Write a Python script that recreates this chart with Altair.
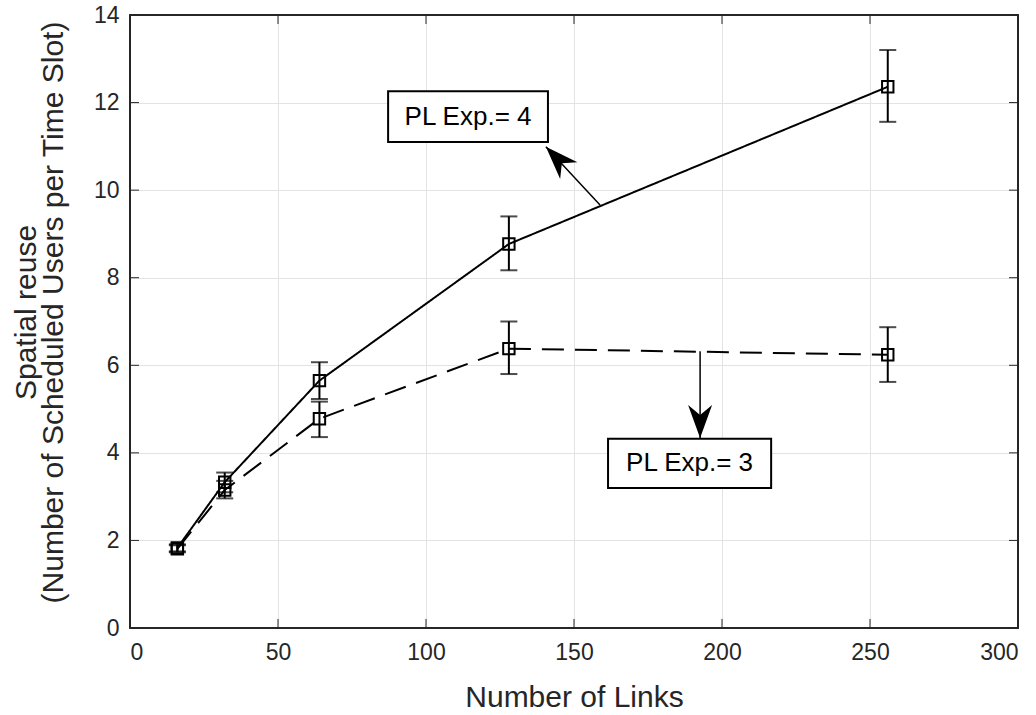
import altair as alt
import pandas as pd

# ---------------- data ----------------
links = [16, 32, 64, 128, 256]
pl4_mean = [1.83, 3.33, 5.65, 8.77, 12.36]
pl4_low = [1.75, 3.10, 5.23, 8.17, 11.56]
pl4_high = [1.91, 3.55, 6.07, 9.40, 13.20]
pl3_mean = [1.81, 3.15, 4.78, 6.38, 6.24]
pl3_low = [1.73, 2.96, 4.36, 5.80, 5.62]
pl3_high = [1.89, 3.36, 5.17, 7.00, 6.87]

x_ticks = [0, 50, 100, 150, 200, 250, 300]
y_ticks = [0, 2, 4, 6, 8, 10, 12, 14]

# annotations (data coordinates)
ann_labels = ["PL Exp.= 4", "PL Exp.= 3"]
ann_box_x1 = [87.2, 161.5]
ann_box_x2 = [141.2, 216.6]
ann_box_y1 = [12.26, 4.32]
ann_box_y2 = [11.10, 3.20]
arrow_tail_x = [158.8, 192.6]
arrow_tail_y = [9.66, 6.32]
arrow_head_x = [140.5, 192.6]
arrow_head_y = [10.99, 4.34]
arrow_angle = [316, 180]

FONT = "Liberation Sans"
W, H = 888, 613
INK = "#000000"

pl4 = pd.DataFrame({"x": links, "m": pl4_mean, "lo": pl4_low, "hi": pl4_high})
pl3 = pd.DataFrame({"x": links, "m": pl3_mean, "lo": pl3_low, "hi": pl3_high})
ann = pd.DataFrame({
    "label": ann_labels,
    "x1": ann_box_x1, "x2": ann_box_x2, "y1": ann_box_y1, "y2": ann_box_y2,
    "tx": arrow_tail_x, "ty": arrow_tail_y, "hx": arrow_head_x, "hy": arrow_head_y,
    "ang": arrow_angle,
})
ann["cx"] = (ann["x1"] + ann["x2"]) / 2
ann["cy"] = (ann["y1"] + ann["y2"]) / 2
xt = pd.DataFrame({"v": x_ticks})
yt = pd.DataFrame({"v": y_ticks})

xscale = alt.Scale(domain=[0, 300], nice=False, zero=False)
yscale = alt.Scale(domain=[0, 14], nice=False, zero=False)
xaxis = alt.Axis(values=x_ticks, title="Number of Links", grid=True,
                 titleBaseline="alphabetic", titleY=78, labelPadding=13)
yaxis = alt.Axis(values=y_ticks,
                 title=["Spatial reuse", "(Number of Scheduled Users per Time Slot)"],
                 grid=True, titleLineHeight=27, titleX=-89, titleY=297,
                 titleBaseline="bottom", labelPadding=11)


def X(f):
    return alt.X(f, type="quantitative", scale=xscale, axis=xaxis)


def Y(f):
    return alt.Y(f, type="quantitative", scale=yscale, axis=yaxis)


def series_layers(df, dash):
    base = alt.Chart(df)
    line = base.mark_line(color=INK, strokeWidth=2, strokeDash=dash).encode(x=X("x"), y=Y("m"))
    err = base.mark_rule(color=INK, strokeWidth=2).encode(x=X("x"), y=Y("lo"), y2="hi")
    cap_lo = base.mark_tick(color=INK, orient="horizontal", size=17, thickness=2).encode(x=X("x"), y=Y("lo"))
    cap_hi = base.mark_tick(color=INK, orient="horizontal", size=17, thickness=2).encode(x=X("x"), y=Y("hi"))
    pts = base.mark_point(shape="square", filled=False, color=INK, size=130, strokeWidth=2,
                          opacity=1).encode(x=X("x"), y=Y("m"))
    return [line, err, cap_lo, cap_hi, pts]


layers = []
layers += series_layers(pl3, [22, 11])
layers += series_layers(pl4, [1, 0])

# inward ticks on all four sides
tick_c = "#262626"
layers.append(alt.Chart(xt).mark_rule(color=tick_c, strokeWidth=1).encode(
    x=X("v"), y=alt.value(H), y2=alt.value(H - 9)))
layers.append(alt.Chart(xt).mark_rule(color=tick_c, strokeWidth=1).encode(
    x=X("v"), y=alt.value(0), y2=alt.value(9)))
layers.append(alt.Chart(yt).mark_rule(color=tick_c, strokeWidth=1).encode(
    y=Y("v"), x=alt.value(0), x2=alt.value(9)))
layers.append(alt.Chart(yt).mark_rule(color=tick_c, strokeWidth=1).encode(
    y=Y("v"), x=alt.value(W), x2=alt.value(W - 9)))

# annotations
ab = alt.Chart(ann)
layers.append(ab.mark_rule(color=INK, strokeWidth=1.5).encode(
    x=X("tx"), y=Y("ty"), x2="hx", y2="hy"))
layers.append(ab.mark_point(shape="M0,0 L-0.364,1 L0,0.697 L0.364,1 Z", filled=True,
                            color=INK, size=4356, opacity=1).encode(
    x=X("hx"), y=Y("hy"), angle=alt.Angle("ang:Q", scale=None)))
layers.append(ab.mark_rect(fill="white", stroke=INK, strokeWidth=2).encode(
    x=X("x1"), x2="x2", y=Y("y1"), y2="y2"))
layers.append(ab.mark_text(font=FONT, fontSize=26, color=INK, align="center",
                           baseline="middle").encode(x=X("cx"), y=Y("cy"), text="label:N"))

# box around plot area
layers.append(alt.Chart(xt).mark_rect(filled=False, stroke="#262626", strokeWidth=1.2).encode(
    x=alt.value(0), x2=alt.value(W), y=alt.value(0), y2=alt.value(H)))

chart = alt.layer(*layers).properties(
    width=W, height=H,
    padding={"left": 130, "top": 15, "right": 18, "bottom": 87},
    autosize=alt.AutoSizeParams(type="none"),
).configure_view(stroke=None).configure_axis(
    labelFont=FONT, labelFontSize=23, labelColor="#262626",
    titleFont=FONT, titleFontSize=30, titleColor="#262626", titleFontWeight="normal",
    gridColor="#e3e3e3", gridWidth=1, domain=False, ticks=False,
)

chart.save("out.html", embed_options={"renderer": "svg", "actions": False})
